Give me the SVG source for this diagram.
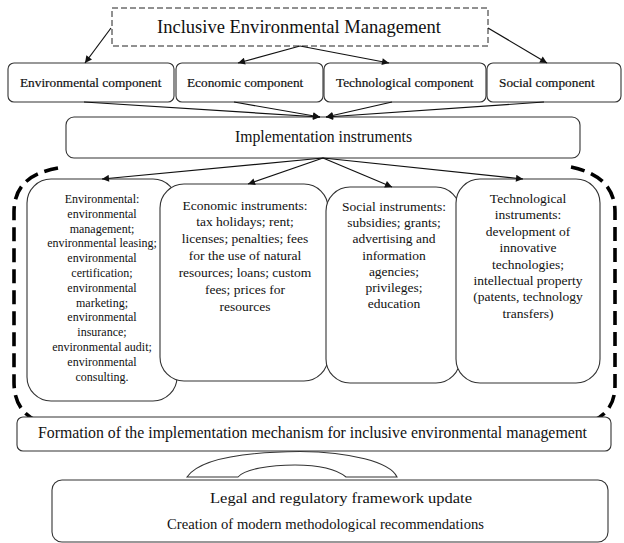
<svg xmlns="http://www.w3.org/2000/svg" width="624" height="543" viewBox="0 0 624 543">
<defs>
<marker id="ah" viewBox="0 0 10 10" refX="10" refY="5" markerWidth="9" markerHeight="7" markerUnits="userSpaceOnUse" orient="auto">
<path d="M0,0 L10,5 L0,10 z" fill="#111"/>
</marker>
<style>
.box{fill:#fff;stroke:#333;stroke-width:1.1}
.t{font-family:"Liberation Serif","Times New Roman",serif;fill:#111}
.comp{font-size:13.3px;stroke:#111;stroke-width:0.2}
.small{font-size:12px;text-anchor:middle}
.mid{font-size:13.5px;text-anchor:middle}
.conn{stroke:#111;stroke-width:1.2;fill:none;marker-end:url(#ah)}
.bracket{stroke:#000;stroke-width:3.6;fill:none;stroke-dasharray:14 7}
</style>
</defs>
<rect width="624" height="543" fill="#fff"/>

<g id="title">
<rect x="112" y="8" width="376" height="38" fill="#fff" stroke="#222" stroke-width="1" stroke-dasharray="6 3"/>
<text class="t" x="299" y="33" font-size="19" text-anchor="middle" textLength="284" lengthAdjust="spacingAndGlyphs">Inclusive Environmental Management</text>
</g>

<g id="comp-env"><rect class="box" x="8" y="63" width="166" height="39" rx="6"/><text class="t comp" x="20" y="87">Environmental component</text></g>
<g id="comp-eco"><rect class="box" x="176" y="63" width="147" height="39" rx="6"/><text class="t comp" x="187" y="87">Economic component</text></g>
<g id="comp-tech"><rect class="box" x="324" y="63" width="162" height="39" rx="6"/><text class="t comp" x="336" y="87">Technological component</text></g>
<g id="comp-soc"><rect class="box" x="487" y="63" width="134" height="39" rx="6"/><text class="t comp" x="499" y="87">Social component</text></g>

<g id="impl">
<rect class="box" x="66" y="117" width="514" height="41" rx="8"/>
<text class="t" x="323.5" y="142" font-size="16" text-anchor="middle" textLength="177" lengthAdjust="spacingAndGlyphs">Implementation instruments</text>
</g>

<g id="brackets">
<path class="bracket" d="M58 168 C30 173 14 186 14 212 L14 382 C14 404 24 418 47 425"/>
<path class="bracket" d="M571 167 C600 173 615 188 615 212 L615 385 C615 405 606 418 582 425"/>
</g>

<g id="inst-env">
<rect class="box" x="27" y="179" width="150" height="222" rx="24"/>
<text class="t small"><tspan x="102" y="203">Environmental:</tspan><tspan x="102" dy="14.8">environmental</tspan><tspan x="102" dy="14.8">management;</tspan><tspan x="102" dy="14.8">environmental leasing;</tspan><tspan x="102" dy="14.8">environmental</tspan><tspan x="102" dy="14.8">certification;</tspan><tspan x="102" dy="14.8">environmental</tspan><tspan x="102" dy="14.8">marketing;</tspan><tspan x="102" dy="14.8">environmental</tspan><tspan x="102" dy="14.8">insurance;</tspan><tspan x="102" dy="14.8">environmental audit;</tspan><tspan x="102" dy="14.8">environmental</tspan><tspan x="102" dy="14.8">consulting.</tspan></text>
</g>

<g id="inst-eco">
<rect class="box" x="160" y="184" width="168" height="197" rx="24"/>
<text class="t mid"><tspan x="245" y="209.5">Economic instruments:</tspan><tspan x="245" dy="16.9">tax holidays; rent;</tspan><tspan x="245" dy="16.9">licenses; penalties; fees</tspan><tspan x="245" dy="16.9">for the use of natural</tspan><tspan x="245" dy="16.9">resources; loans; custom</tspan><tspan x="245" dy="16.9">fees; prices for</tspan><tspan x="245" dy="16.9">resources</tspan></text>
</g>

<g id="inst-soc">
<rect class="box" x="326" y="187" width="134" height="196" rx="24"/>
<text class="t mid"><tspan x="394" y="211">Social instruments:</tspan><tspan x="394" dy="16.2">subsidies; grants;</tspan><tspan x="394" dy="16.2">advertising and</tspan><tspan x="394" dy="16.2">information</tspan><tspan x="394" dy="16.2">agencies;</tspan><tspan x="394" dy="16.2">privileges;</tspan><tspan x="394" dy="16.2">education</tspan></text>
</g>

<g id="inst-tech">
<rect class="box" x="456" y="179" width="144" height="204" rx="24"/>
<text class="t mid"><tspan x="528" y="203">Technological</tspan><tspan x="528" dy="16.4">instruments:</tspan><tspan x="528" dy="16.4">development of</tspan><tspan x="528" dy="16.4">innovative</tspan><tspan x="528" dy="16.4">technologies;</tspan><tspan x="528" dy="16.4">intellectual property</tspan><tspan x="528" dy="16.4">(patents, technology</tspan><tspan x="528" dy="16.4">transfers)</tspan></text>
</g>

<g id="formation">
<rect class="box" x="17" y="417" width="594" height="34" rx="6"/>
<text class="t" x="312.5" y="438" font-size="16" text-anchor="middle" textLength="549" lengthAdjust="spacingAndGlyphs">Formation of the implementation mechanism for inclusive environmental management</text>
</g>

<g id="bridge">
<path d="M187 477 C200 458 250 452 300 451.5 C350 452 390 462 397 477 L346 477 C335 468 315 465 295 465 C270 465 245 469 238 477 Z" fill="#fff" stroke="#333" stroke-width="1.1"/>
</g>

<g id="framework">
<rect class="box" x="52" y="480" width="556" height="62" rx="10"/>
<text class="t" x="341" y="503" font-size="14" text-anchor="middle" textLength="262" lengthAdjust="spacingAndGlyphs">Legal and regulatory framework update</text>
<text class="t" x="325.5" y="529" font-size="14" text-anchor="middle" textLength="317" lengthAdjust="spacingAndGlyphs">Creation of modern methodological recommendations</text>
</g>

<g id="connectors">
<path class="conn" d="M111 28 L85 63"/>
<path class="conn" d="M300 46 L238 63"/>
<path class="conn" d="M300 46 L389 63"/>
<path class="conn" d="M488 28 L547 63"/>
<path class="conn" d="M84 102 L320 117"/>
<path class="conn" d="M234 102 L320 117"/>
<path class="conn" d="M392 102 L326 117"/>
<path class="conn" d="M544 102 L326 117"/>
<path class="conn" d="M323 158 L102 179"/>
<path class="conn" d="M323 158 L248 184"/>
<path class="conn" d="M323 158 L392 187"/>
<path class="conn" d="M323 158 L523 179"/>
</g>
</svg>
